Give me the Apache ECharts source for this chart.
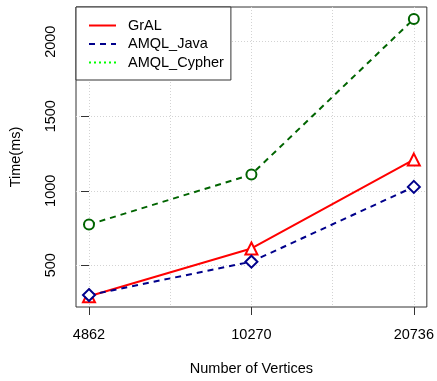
<!DOCTYPE html>
<html>
<head>
<meta charset="utf-8">
<script src="https://cdn.jsdelivr.net/npm/echarts@6/dist/echarts.min.js"></script>
<style>
html,body{margin:0;padding:0;background:#fff;}
#chart{width:437px;height:381px;}
</style>
</head>
<body>
<div id="chart"></div>
<script>
const categories = ['4862', '10270', '20736'];
const gral = [292, 613, 1209];
const amqlJava = [300, 524, 1026];
const amqlCypher = [773, 1109, 2153];
const yTicks = [500, 1000, 1500, 2000];

const font = 'Liberation Sans, Arial, Helvetica, sans-serif';
const fs = 14.5;
const toXY = arr => arr.map((v, i) => [i, v]);

const chart = echarts.init(document.getElementById('chart'), null, {renderer: 'canvas'});
chart.setOption({
  animation: false,
  backgroundColor: '#fff',
  grid: {left: 76, right: 7, top: 7, bottom: 72, show: true, borderColor: '#333', borderWidth: 1, backgroundColor: 'transparent'},
  legend: {
    orient: 'vertical',
    left: 76, top: 7,
    padding: [11, 7, 10, 12],
    itemWidth: 27, itemHeight: 14, itemGap: 3.5,
    borderColor: '#333', borderWidth: 1, borderRadius: 0,
    backgroundColor: '#fff',
    itemStyle: {opacity: 0},
    textStyle: {fontFamily: font, fontSize: fs, lineHeight: 14, color: '#000', padding: [0, 0, 0, 7]},
    data: [
      {name: 'GrAL', lineStyle: {color: '#ff0000', type: 'solid', width: 2}},
      {name: 'AMQL_Java', lineStyle: {color: '#00008b', type: [6, 5], width: 2}},
      {name: 'AMQL_Cypher', lineStyle: {color: '#00ff00', type: [2, 3], width: 2}}
    ]
  },
  xAxis: [
    {
      type: 'value', min: -0.08, max: 2.08,
      name: 'Number of Vertices', nameLocation: 'middle', nameGap: 54,
      nameTextStyle: {fontFamily: font, fontSize: fs, color: '#000'},
      axisLine: {show: false},
      axisTick: {show: true, inside: false, length: 8, lineStyle: {color: '#333'}, customValues: [0, 1, 2]},
      axisLabel: {customValues: [0, 1, 2], margin: 20, fontFamily: font, fontSize: fs, color: '#000',
        formatter: v => categories[Math.round(v)]},
      splitLine: {show: false}
    },
    {
      type: 'value', min: -0.08, max: 2.08, position: 'bottom',
      axisLine: {show: false},
      axisTick: {show: false, customValues: [0, 0.5, 1, 1.5, 2]},
      axisLabel: {show: false},
      splitLine: {show: true, lineStyle: {color: '#d3d3d3', type: [1, 2], width: 1}}
    }
  ],
  yAxis: {
    type: 'value', min: 220, max: 2233,
    name: 'Time(ms)', nameLocation: 'middle', nameGap: 53,
    nameTextStyle: {fontFamily: font, fontSize: fs, color: '#000'},
    axisLine: {show: false},
    axisTick: {show: true, inside: false, length: 8, lineStyle: {color: '#333'}, customValues: yTicks},
    axisLabel: {customValues: yTicks, rotate: 90, margin: 18, fontFamily: font, fontSize: fs, color: '#000',
      formatter: v => String(v)},
    splitLine: {show: true, lineStyle: {color: '#d3d3d3', type: [1, 2], width: 1}}
  },
  series: [
    {
      name: 'GrAL', type: 'line', data: toXY(gral),
      symbol: 'emptyTriangle', symbolSize: 12,
      color: '#ff0000',
      lineStyle: {color: '#ff0000', width: 2, type: 'solid'},
      itemStyle: {color: '#ff0000', borderWidth: 2}
    },
    {
      name: 'AMQL_Java', type: 'line', data: toXY(amqlJava),
      symbol: 'emptyDiamond', symbolSize: 12,
      color: '#00008b',
      lineStyle: {color: '#00008b', width: 2, type: [6, 5]},
      itemStyle: {color: '#00008b', borderWidth: 2}
    },
    {
      name: 'AMQL_Cypher', type: 'line', data: toXY(amqlCypher),
      symbol: 'emptyCircle', symbolSize: 10,
      color: '#006400',
      lineStyle: {color: '#006400', width: 2, type: [6, 5]},
      itemStyle: {color: '#006400', borderWidth: 2}
    }
  ]
});
</script>
</body>
</html>
